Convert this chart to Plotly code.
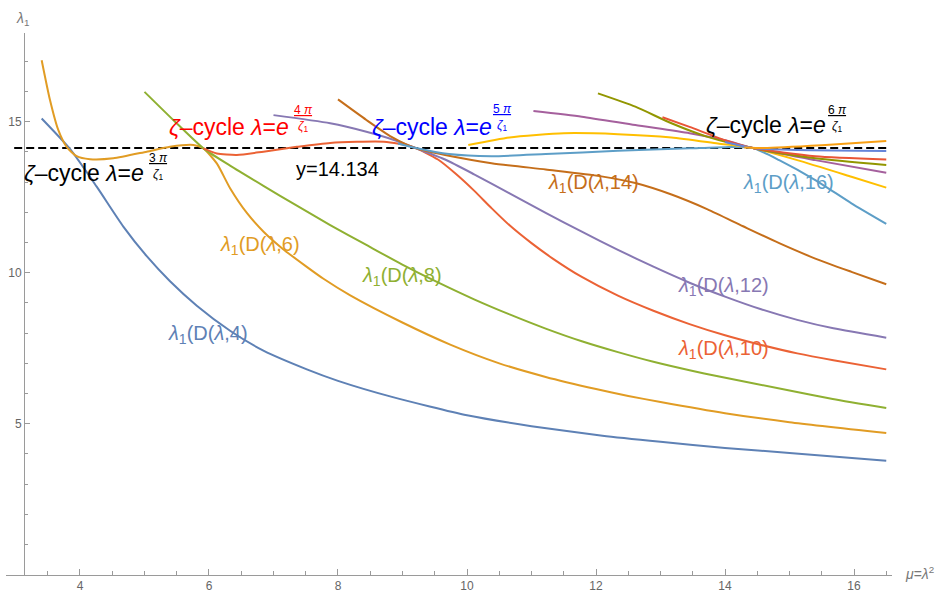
import plotly.graph_objects as go

# ---------------- data ----------------
d4_x = [3.406, 3.845, 4.259, 4.672, 5.035, 5.396, 5.811, 6.327, 6.844, 7.517, 8.00, 8.85, 10.0, 11.0, 12.1, 13.0, 14.0, 15.0, 16.5]
d4_y = [15.11, 14.10, 12.85, 11.53, 10.55, 9.72, 8.91, 8.08, 7.42, 6.80, 6.42, 5.88, 5.28, 4.92, 4.60, 4.40, 4.20, 4.03, 3.77]

d6_x = [3.406, 3.535, 3.663, 3.793, 3.948, 4.155, 4.517, 5.035, 5.396, 5.758, 5.913, 6.121, 6.327, 6.587, 6.85, 7.15, 7.50, 7.775, 8.19, 8.99, 9.74, 10.5, 11.22, 12.0, 12.5, 13.0, 14.0, 15.0, 16.5]
d6_y = [17.04, 15.72, 14.73, 14.17, 13.86, 13.76, 13.79, 14.01, 14.17, 14.23, 14.12, 13.62, 12.80, 11.98, 11.35, 10.78, 10.22, 9.80, 9.25, 8.36, 7.62, 7.00, 6.55, 6.15, 5.92, 5.72, 5.35, 5.05, 4.69]

d8_x = [5.00, 5.45, 5.913, 6.327, 6.844, 7.362, 7.879, 8.44, 8.99, 9.55, 10.11, 10.66, 11.22, 11.78, 12.34, 12.89, 13.45, 13.89, 15.0, 15.67, 16.5]
d8_y = [15.99, 15.05, 14.12, 13.55, 12.88, 12.22, 11.58, 10.92, 10.28, 9.68, 9.12, 8.62, 8.15, 7.73, 7.37, 7.05, 6.77, 6.57, 6.10, 5.82, 5.52]

d10_x = [5.913, 6.121, 6.431, 6.844, 7.362, 7.879, 8.71, 9.16, 9.55, 9.83, 10.11, 10.38, 10.66, 11.0, 11.33, 11.78, 12.34, 12.89, 13.45, 14.0, 14.56, 15.12, 15.68, 16.5]
d10_y = [14.12, 13.95, 13.90, 14.01, 14.17, 14.30, 14.34, 14.17, 13.75, 13.27, 12.72, 12.14, 11.57, 10.98, 10.47, 9.86, 9.24, 8.74, 8.30, 7.93, 7.61, 7.33, 7.10, 6.80]

d12_x = [7.00, 7.879, 8.44, 8.88, 9.21, 9.66, 10.11, 10.66, 11.22, 11.78, 12.34, 12.89, 13.45, 14.0, 14.56, 15.12, 15.68, 16.5]
d12_y = [15.22, 14.95, 14.67, 14.39, 14.12, 13.75, 13.26, 12.63, 11.98, 11.36, 10.76, 10.20, 9.67, 9.21, 8.79, 8.44, 8.16, 7.85]

d14_x = [8.00, 8.44, 8.83, 9.21, 9.66, 10.38, 11.22, 12.06, 12.61, 13.17, 13.73, 14.28, 14.84, 15.4, 15.96, 16.5]
d14_y = [15.74, 15.06, 14.50, 14.12, 13.90, 13.63, 13.42, 13.20, 12.97, 12.59, 12.10, 11.54, 10.98, 10.47, 10.03, 9.62]

d16_x = [8.93, 9.21, 9.72, 10.38, 11.22, 12.34, 13.45, 14.0, 14.43, 14.84, 15.4, 15.96, 16.5]
d16_y = [14.28, 14.13, 13.93, 13.86, 13.93, 14.04, 14.12, 14.16, 14.13, 13.73, 13.07, 12.30, 11.62]

d18_x = [10.02, 10.66, 11.5, 12.34, 13.17, 13.89, 14.43, 15.12, 15.96, 16.5]
d18_y = [14.23, 14.48, 14.62, 14.59, 14.48, 14.28, 14.13, 13.73, 13.18, 12.82]

d20_x = [11.03, 11.78, 12.61, 13.45, 14.0, 14.43, 15.4, 16.5]
d20_y = [15.36, 15.17, 14.89, 14.62, 14.39, 14.13, 13.73, 13.31]

d22_x = [12.03, 12.61, 13.17, 13.73, 14.43, 15.4, 16.5]
d22_y = [15.94, 15.50, 14.95, 14.50, 14.13, 13.79, 13.57]

d24_x = [13.03, 13.45, 14.0, 14.43, 15.4, 16.5]
d24_y = [15.15, 14.83, 14.39, 14.13, 13.86, 13.75]

d26_x = [14.0, 14.43, 15.0, 16.5]
d26_y = [14.33, 14.13, 14.07, 14.03]

d28_x = [14.3, 14.6, 15.5, 16.5]
d28_y = [14.15, 14.13, 14.22, 14.36]

zeta_level = 14.134
dash_x = [2.98, 16.56]

x_ticks = [4, 6, 8, 10, 12, 14, 16]
y_ticks = [5, 10, 15]
x_minor = [3.5 + 0.5 * i for i in range(27) if (3.5 + 0.5 * i) not in x_ticks]
y_minor = [v for v in range(1, 18) if v not in y_ticks]

series = [
    (d4_x, d4_y, "#5E81B5"),
    (d6_x, d6_y, "#E19C24"),
    (d8_x, d8_y, "#8FB032"),
    (d10_x, d10_y, "#EB6235"),
    (d12_x, d12_y, "#8778B3"),
    (d14_x, d14_y, "#C56E1A"),
    (d16_x, d16_y, "#5D9EC7"),
    (d18_x, d18_y, "#FFBF00"),
    (d20_x, d20_y, "#A5609D"),
    (d22_x, d22_y, "#929600"),
    (d24_x, d24_y, "#E95536"),
    (d26_x, d26_y, "#6685D9"),
    (d28_x, d28_y, "#F89F13"),
]

FONT = "Liberation Sans, Arial, sans-serif"
fig = go.Figure()

fig.add_trace(go.Scatter(x=dash_x, y=[zeta_level, zeta_level], mode="lines",
                         line=dict(color="black", width=2, dash="8px,4px"),
                         hoverinfo="skip", showlegend=False))

for xs, ys, col in series:
    fig.add_trace(go.Scatter(x=xs, y=ys, mode="lines",
                             line=dict(color=col, width=2, shape="spline", smoothing=0.6),
                             hoverinfo="skip", showlegend=False))

# curve labels
labels = [
    ("4", 5.99, 7.94, "#5E81B5"),
    ("6", 6.79, 10.91, "#E19C24"),
    ("8", 9.00, 9.89, "#8FB032"),
    ("10", 13.98, 7.47, "#EB6235"),
    ("12", 13.98, 9.53, "#8778B3"),
    ("14", 11.96, 12.97, "#C56E1A"),
    ("16", 14.99, 12.97, "#5D9EC7"),
]
for n, lx, ly, col in labels:
    fig.add_annotation(x=lx, y=ly, xref="x", yref="y", showarrow=False,
                       text="<i>λ</i><sub>1</sub>(D(<i>λ</i>," + n + ")",
                       font=dict(family=FONT, size=20, color=col),
                       xanchor="center", yanchor="middle")

# zeta-cycle labels
zetas = [
    ("3", 3.10, 13.30, 5.21, 13.52, "black"),
    ("4", 5.35, 14.84, 7.46, 15.10, "#FF0000"),
    ("5", 8.50, 14.82, 10.55, 15.13, "#0000FF"),
    ("6", 13.67, 14.88, 15.75, 15.10, "black"),
]
for n, tx, ty, fx, fy, col in zetas:
    fig.add_annotation(x=tx, y=ty, xref="x", yref="y", showarrow=False,
                       text="<i>ζ</i>–cycle <i>λ</i>=<i>e</i>",
                       font=dict(family=FONT, size=23, color=col),
                       xanchor="left", yanchor="middle")
    fig.add_annotation(x=fx, y=fy, xref="x", yref="y", showarrow=False,
                       text="<span style='text-decoration:underline'>" + n + " <i>π</i></span><br><i>ζ</i><sub>1</sub>",
                       font=dict(family=FONT, size=12, color=col),
                       xanchor="center", yanchor="middle")

fig.add_annotation(x=7.32, y=13.42, xref="x", yref="y", showarrow=False,
                   text="y=14.134", font=dict(family=FONT, size=20, color="black"),
                   xanchor="left", yanchor="middle")

# axis labels
fig.add_annotation(x=0.019, y=1.026, xref="paper", yref="paper", showarrow=False,
                   text="<i>λ</i><sub>1</sub>", font=dict(family=FONT, size=14, color="#777"),
                   xanchor="center", yanchor="middle")
fig.add_annotation(x=1.0316, y=0.003, xref="paper", yref="paper", showarrow=False,
                   text="<i>μ</i>=<i>λ</i><sup>2</sup>", font=dict(family=FONT, size=14, color="#777"),
                   xanchor="center", yanchor="middle")

axis_col = "#9a9a9a"
fig.update_layout(
    width=946, height=594,
    margin=dict(l=6, r=54, t=33, b=19, autoexpand=False),
    paper_bgcolor="white", plot_bgcolor="white",
    showlegend=False,
    xaxis=dict(range=[2.853, 16.589], showgrid=False, zeroline=False, automargin=False,
               showline=True, linecolor=axis_col, linewidth=1,
               ticks="inside", ticklen=6, tickcolor=axis_col, tickwidth=1,
               tickmode="array", tickvals=x_ticks,
               tickfont=dict(family=FONT, size=12, color="#666"),
               minor=dict(tickmode="array", tickvals=x_minor, ticks="inside",
                          ticklen=4, tickcolor=axis_col, showgrid=False)),
    yaxis=dict(range=[-0.01, 17.94], showgrid=False, zeroline=False, automargin=False,
               anchor="free", position=0.0203,
               showline=True, linecolor=axis_col, linewidth=1,
               ticks="inside", ticklen=5, tickcolor=axis_col, tickwidth=1,
               tickmode="array", tickvals=y_ticks,
               tickfont=dict(family=FONT, size=12, color="#666"),
               minor=dict(tickmode="array", tickvals=y_minor, ticks="inside",
                          ticklen=3.5, tickcolor=axis_col, showgrid=False)),
)

fig.write_html("out.html", config={"displayModeBar": False},
               post_script="document.body.style.margin='0';document.body.style.overflow='hidden';")
